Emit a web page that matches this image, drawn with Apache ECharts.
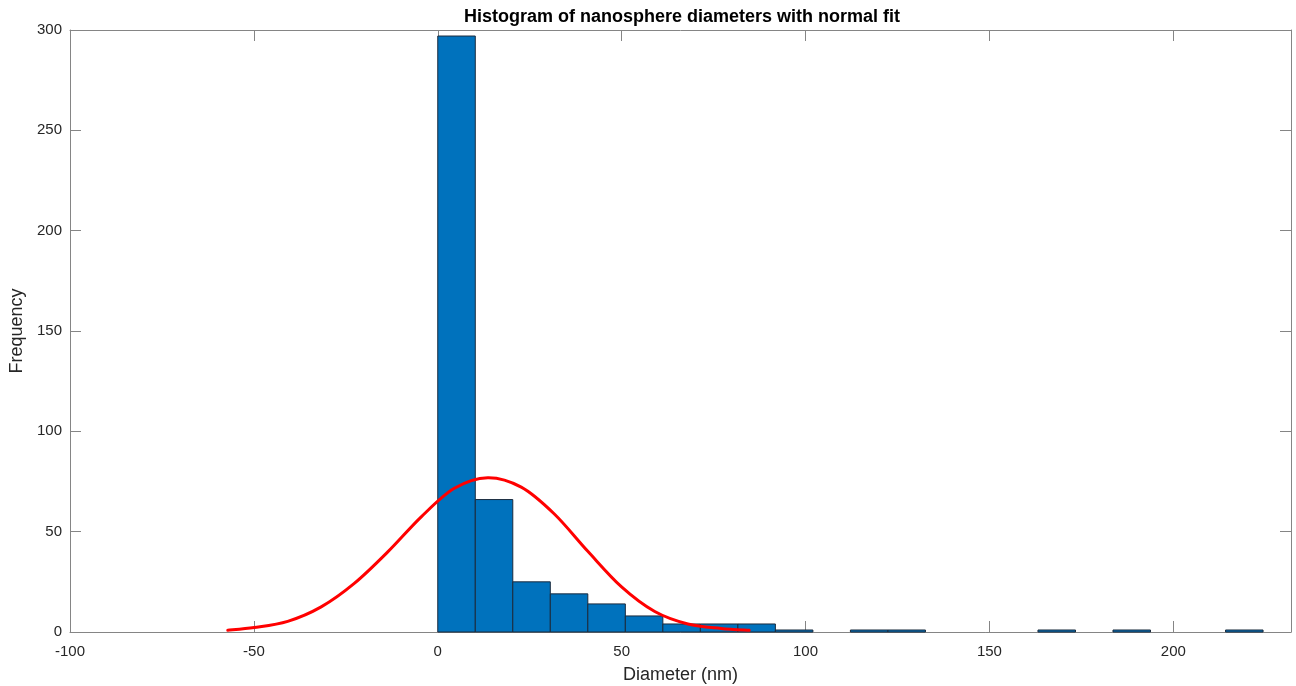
<!DOCTYPE html>
<html>
<head>
<meta charset="utf-8">
<script src="https://cdn.jsdelivr.net/npm/echarts@6/dist/echarts.min.js"></script>
<style>
html,body{margin:0;padding:0;background:#fff;}
#chart{width:1296px;height:686px;}
</style>
</head>
<body>
<div id="chart"></div>
<script>
// Histogram bins (start edge, width) and counts
const binStart = 0;
const binWidth = 10.2;
const counts = [297, 66, 25, 19, 14, 8, 4, 4, 4, 1, 0, 1, 1, 0, 0, 0, 1, 0, 1, 0, 0, 1];

// Normal fit curve
const fitX = [-57.1, -49.9, -40.8, -31.7, -22.7, -13.6, -4.5, 4.5, 13.6, 22.7, 31.7, 40.8, 49.9, 59.0, 68.0, 77.0, 84.7];
const fitY = [0.85, 2.2, 5.3, 12.5, 24.2, 39.9, 57.4, 71.6, 76.9, 72.2, 58.8, 40.2, 22.6, 10.2, 4.0, 1.8, 0.85];

const xTicks = [-100, -50, 0, 50, 100, 150, 200];
const yTicks = [0, 50, 100, 150, 200, 250, 300];

const titleText = 'Histogram of nanosphere diameters with normal fit';
const xLabel = 'Diameter (nm)';
const yLabel = 'Frequency';

const barData = counts.map((c, i) => [binStart + i * binWidth, binStart + (i + 1) * binWidth, c]);
const fitData = fitX.map((x, i) => [x, fitY[i]]);

const axisCol = '#858585';
const txtCol = '#262626';
const font = 'Liberation Sans, Arial, Helvetica, sans-serif';

const chart = echarts.init(document.getElementById('chart'));
const xCommon = {
  type: 'value', min: -100, max: 232, interval: 50,
  axisLine: {show: true, onZero: false, lineStyle: {color: axisCol, width: 1}},
  axisTick: {show: true, inside: true, length: 11, lineStyle: {color: axisCol}},
  splitLine: {show: false}
};
const yCommon = {
  type: 'value', min: 0, max: 300, interval: 50,
  axisLine: {show: true, onZero: false, lineStyle: {color: axisCol, width: 1}},
  axisTick: {show: true, inside: true, length: 11, lineStyle: {color: axisCol}},
  splitLine: {show: false}
};

// Smooth (Catmull-Rom) curve through the fit points, mapped by the axes
function renderFit(params, api) {
  if (params.dataIndex !== 0) return null;
  const pts = fitData.map(d => api.coord(d));
  let path = 'M' + pts[0][0] + ' ' + pts[0][1];
  for (let i = 0; i < pts.length - 1; i++) {
    const p0 = pts[Math.max(i - 1, 0)], p1 = pts[i], p2 = pts[i + 1], p3 = pts[Math.min(i + 2, pts.length - 1)];
    const c1x = p1[0] + (p2[0] - p0[0]) / 6, c1y = p1[1] + (p2[1] - p0[1]) / 6;
    const c2x = p2[0] - (p3[0] - p1[0]) / 6, c2y = p2[1] - (p3[1] - p1[1]) / 6;
    path += ' C' + c1x + ' ' + c1y + ' ' + c2x + ' ' + c2y + ' ' + p2[0] + ' ' + p2[1];
  }
  return {
    type: 'path',
    shape: {pathData: path},
    style: {fill: null, stroke: '#ff0000', lineWidth: 3, lineJoin: 'round', lineCap: 'round'}
  };
}

chart.setOption({
  animation: false,
  backgroundColor: '#ffffff',
  title: {
    text: titleText, left: 677, top: 3, textAlign: 'center',
    textStyle: {fontFamily: font, fontWeight: 'bold', fontSize: 18, color: '#000'}
  },
  grid: {left: 70, right: 5, top: 30, bottom: 54, containLabel: false, outerBoundsMode: 'none'},
  xAxis: [
    Object.assign({}, xCommon, {
      position: 'bottom',
      name: xLabel, nameLocation: 'middle', nameGap: 34,
      nameTextStyle: {fontFamily: font, fontSize: 18, color: txtCol},
      axisLabel: {
        show: true, margin: 12, fontFamily: font, fontSize: 15, color: txtCol,
        formatter: v => (xTicks.indexOf(v) >= 0 ? String(v) : '')
      }
    }),
    Object.assign({}, xCommon, {position: 'top', axisLabel: {show: false}})
  ],
  yAxis: [
    Object.assign({}, yCommon, {
      position: 'left',
      name: yLabel, nameLocation: 'middle', nameGap: 33, nameRotate: 90,
      nameTextStyle: {fontFamily: font, fontSize: 18, color: txtCol},
      axisLabel: {
        show: true, margin: 8, fontFamily: font, fontSize: 15, color: txtCol,
        formatter: v => (yTicks.indexOf(v) >= 0 ? String(v) : '')
      }
    }),
    Object.assign({}, yCommon, {position: 'right', axisLabel: {show: false}})
  ],
  series: [
    {
      type: 'custom',
      xAxisIndex: 0, yAxisIndex: 0,
      data: barData,
      encode: {x: [0, 1], y: 2},
      renderItem: function (params, api) {
        const c = api.value(2);
        if (!c) return null;
        const p0 = api.coord([api.value(0), c]);
        const p1 = api.coord([api.value(1), 0]);
        return {
          type: 'rect',
          shape: {x: p0[0], y: p0[1], width: p1[0] - p0[0], height: p1[1] - p0[1]},
          style: {fill: '#0072BD', stroke: '#1b2b3d', lineWidth: 1}
        };
      },
      z: 2
    },
    {
      type: 'custom',
      xAxisIndex: 0, yAxisIndex: 0,
      data: fitData,
      encode: {x: 0, y: 1},
      renderItem: renderFit,
      clip: false,
      z: 3
    }
  ]
});
</script>
</body>
</html>
